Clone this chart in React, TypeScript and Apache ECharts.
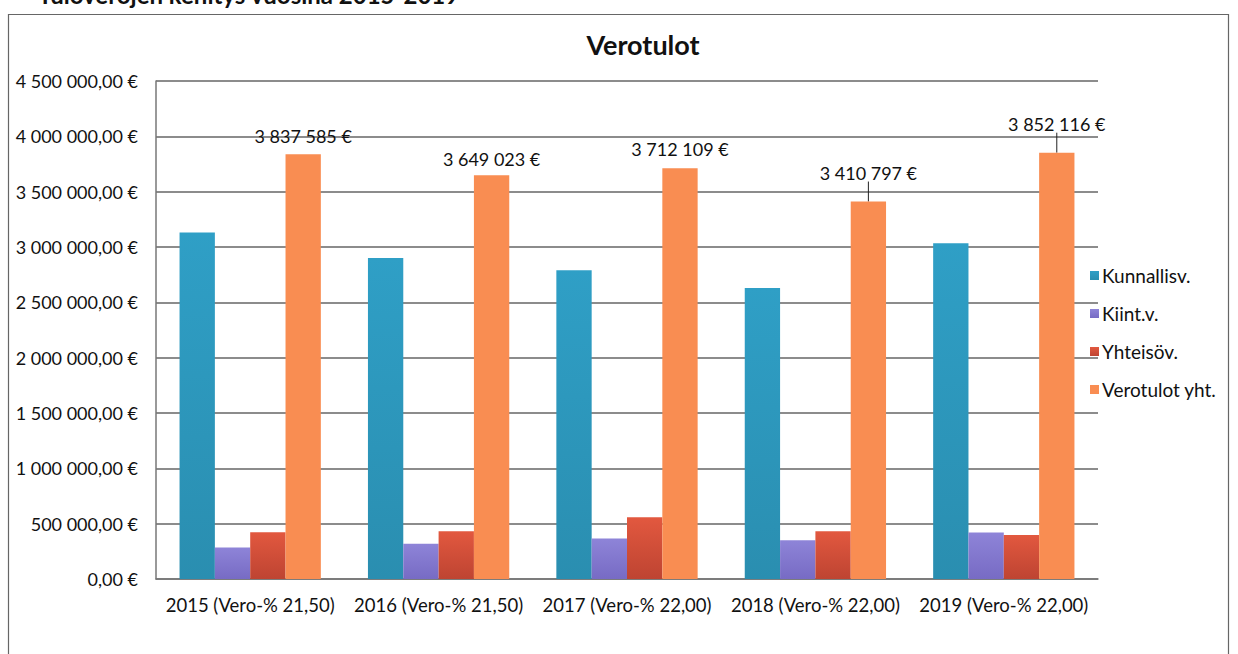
import React, { useEffect, useRef } from "react";
import * as echarts from "echarts";

const categories = [
  "2015 (Vero-% 21,50)",
  "2016 (Vero-% 21,50)",
  "2017 (Vero-% 22,00)",
  "2018 (Vero-% 22,00)",
  "2019 (Vero-% 22,00)",
];
const kunnallisv = [3130000, 2900000, 2790000, 2630000, 3035000];
const kiint = [285000, 318000, 365000, 350000, 420000];
const yhteiso = [423000, 431000, 557000, 431000, 397000];
const verotulot = [3837585, 3649023, 3712109, 3410797, 3852116];
const labelShift = [-4, -2, -5, -15, -15];
const labelLeader = [false, false, false, true, true];
const yTicks = { min: 0, max: 4500000, interval: 500000 };

const fmtAxis = (v: number) => {
  const [i, d] = v.toFixed(2).split(".");
  return i.replace(/\B(?=(\d{3})+(?!\d))/g, " ") + "," + d + " €";
};
const fmtLabel = (v: number) =>
  Math.round(v).toString().replace(/\B(?=(\d{3})+(?!\d))/g, " ") + " €";

const FONT = "Lato, 'Open Sans', sans-serif";

export default function App() {
  const ref = useRef<HTMLDivElement>(null);
  useEffect(() => {
    if (!ref.current) return;
    const chart = echarts.init(ref.current, undefined, { renderer: "svg" });
    const grad = (top: string, bottom: string) =>
      new echarts.graphic.LinearGradient(0, 0, 0, 1, [
        { offset: 0, color: top },
        { offset: 1, color: bottom },
      ]);
    chart.setOption({
      animation: false,
      backgroundColor: "#ffffff",
      textStyle: { fontFamily: FONT },
      title: {
        text: "Verotulot",
        left: 638,
        textAlign: "center",
        top: 26,
        textStyle: { fontSize: 27, fontWeight: "bold", color: "#111", fontFamily: FONT },
      },
      graphic: [
        {
          type: "rect",
          shape: { x: 8.5, y: 14.5, width: 1220, height: 660 },
          style: { fill: "none", stroke: "#666", lineWidth: 1.2 },
          silent: true,
        },
        {
          type: "text",
          x: 38,
          y: 6,
          style: {
            text: "Tuloverojen kehitys vuosina 2015-2019",
            font: "bold 24px " + FONT,
            fill: "#111",
            verticalAlign: "bottom",
          },
          silent: true,
        },
      ],
      legend: {
        orient: "vertical",
        left: 1085,
        top: 261,
        itemWidth: 9,
        itemHeight: 9,
        itemGap: 19,
        icon: "rect",
        textStyle: { fontSize: 19, color: "#111", fontFamily: FONT, padding: [0, 0, 0, -2] },
        data: ["Kunnallisv.", "Kiint.v.", "Yhteisöv.", "Verotulot yht."],
      },
      grid: { left: 156, right: 140, top: 81, bottom: 75 },
      xAxis: {
        type: "category",
        data: categories,
        axisTick: { show: false },
        axisLine: { lineStyle: { color: "#777", width: 1.5 } },
        axisLabel: {
          interval: 0,
          hideOverlap: false,
          fontSize: 18.5,
          color: "#111",
          margin: 16,
          fontFamily: FONT,
        },
      },
      yAxis: {
        type: "value",
        min: yTicks.min,
        max: yTicks.max,
        interval: yTicks.interval,
        axisLine: { show: true, lineStyle: { color: "#777", width: 1.5 } },
        axisTick: { show: false },
        splitLine: { lineStyle: { color: "#666", width: 1.5 } },
        axisLabel: {
          formatter: fmtAxis,
          fontSize: 18,
          color: "#111",
          margin: 18,
          fontFamily: FONT,
        },
      },
      series: [
        {
          name: "Kunnallisv.",
          type: "bar",
          data: kunnallisv,
          barGap: "0%",
          barCategoryGap: "25%",
          itemStyle: { color: grad("#2F9FC6", "#2A8EB0") },
        },
        {
          name: "Kiint.v.",
          type: "bar",
          data: kiint,
          itemStyle: { color: grad("#8E84D8", "#776BC4") },
        },
        {
          name: "Yhteisöv.",
          type: "bar",
          data: yhteiso,
          itemStyle: { color: grad("#E2583F", "#BE4432") },
        },
        {
          name: "Verotulot yht.",
          type: "bar",
          data: verotulot.map((v, i) => ({
            value: v,
            labelLine: { show: labelLeader[i], lineStyle: { color: "#222", width: 1 } },
          })),
          itemStyle: { color: "#F98D52" },
          label: {
            show: true,
            position: "top",
            distance: 5,
            formatter: (p: any) => fmtLabel(p.value),
            fontSize: 18,
            color: "#111",
            fontFamily: FONT,
          },
          labelLayout: (p: any) => ({ dy: labelShift[p.dataIndex] }),
          labelLine: { show: false, length2: 0 },
        },
      ],
    });
    return () => chart.dispose();
  }, []);
  return (
    <div
      ref={ref}
      style={{ position: "fixed", left: 0, top: 0, width: 1238, height: 654 }}
    />
  );
}
